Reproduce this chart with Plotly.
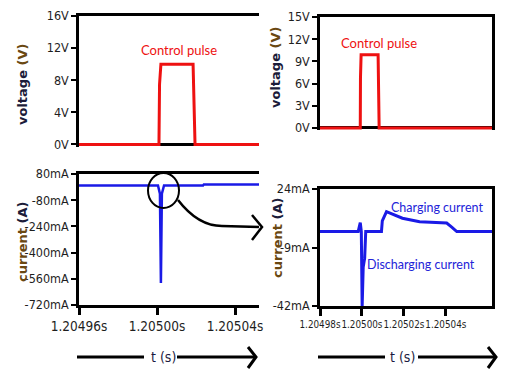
import plotly.graph_objects as go

W, H = 506, 373

# ---------------- data ----------------
# top-left: control pulse (V)
t_v_left = [1.20496, 1.2050010, 1.2050013, 1.2050020, 1.2050185, 1.2050188, 1.2050195, 1.2050523]
v_left = [0, 0, 7.5, 10, 10, 7.0, 0, 0]

# top-right: control pulse (V), zoomed time window
t_v_right = [1.20498, 1.2049992, 1.2049993, 1.2049996, 1.2050077, 1.2050080, 1.2050082, 1.205062]
v_right = [0, 0, 6.8, 9.9, 9.9, 4.5, 0, 0]

# bottom-left: current (mA)
t_i_left = [1.20496, 1.2050005, 1.2050015, 1.2050020, 1.2050025, 1.2050036, 1.2050236, 1.2050240, 1.2050523]
i_left = [10, 10, -40, -585, -40, 10, 10, 16, 16]

# bottom-right: current (mA), zoomed time window
t_i_right = [1.20498, 1.2049982, 1.2049992, 1.2049997, 1.2050001, 1.2050006, 1.2050013, 1.2050018,
             1.2050093, 1.2050097, 1.2050117, 1.2050155, 1.2050193, 1.2050275, 1.2050347,
             1.2050404, 1.2050428, 1.2050452, 1.205062]
i_right = [0, 0, 5, 0, -42, -20, -15, 0,
           0, 6, 11.2, 9.5, 7.5, 5.5, 5.0,
           4.8, 2.5, 0, 0]

v_left_ticks = [0, 4, 8, 12, 16]
v_left_labels = ["0V", "4V", "8V", "12V", "16V"]
v_right_ticks = [0, 3, 6, 9, 12, 15]
v_right_labels = ["0V", "3V", "6V", "9V", "12V", "15V"]
i_left_ticks = [80, -80, -240, -400, -560, -720]
i_left_labels = ["80mA", "-80mA", "-240mA", "-400mA", "-560mA", "-720mA"]
i_right_ticks = [24, -9, -42]
i_right_labels = ["24mA", "-9mA", "-42mA"]
t_left_ticks = [1.20496, 1.20500, 1.20504]
t_left_labels = ["1.20496s", "1.20500s", "1.20504s"]
t_right_ticks = [1.20498, 1.20500, 1.20502, 1.20504]
t_right_labels = ["1.20498s", "1.20500s", "1.20502s", "1.20504s"]

# ---------------- helpers ----------------
def px(x):
    return x / W

def py(y):
    return 1 - y / H

RED = "#ee1111"
BLUE = "#1a1ae6"
TICKC = "#1e1e1e"
NARROW = "DejaVu Sans Condensed, Liberation Sans Narrow, sans-serif"

fig = go.Figure()
fig.add_trace(go.Scatter(x=t_v_left, y=v_left, mode="lines", line=dict(color=RED, width=3),
                         xaxis="x", yaxis="y"))
fig.add_trace(go.Scatter(x=t_v_right, y=v_right, mode="lines", line=dict(color=RED, width=3),
                         xaxis="x2", yaxis="y2"))
fig.add_trace(go.Scatter(x=t_i_left, y=i_left, mode="lines", line=dict(color=BLUE, width=2.5),
                         xaxis="x3", yaxis="y3"))
fig.add_trace(go.Scatter(x=t_i_right, y=i_right, mode="lines", line=dict(color=BLUE, width=3),
                         xaxis="x4", yaxis="y4"))

LW = 2.5
common_x = dict(showgrid=False, zeroline=False, linecolor="black", linewidth=LW, showline=True,
                tickcolor="black", tickangle=0, automargin=False)
common_y = dict(showgrid=False, linecolor="black", linewidth=LW, showline=True, automargin=False,
                ticks="outside", ticklen=5, tickwidth=2, tickcolor="black")

YF = dict(family=NARROW, size=12.5, color=TICKC)

fig.update_layout(
    width=W, height=H, margin=dict(l=0, r=0, t=0, b=0, autoexpand=False),
    paper_bgcolor="white", plot_bgcolor="white", showlegend=False,
    xaxis=dict(common_x, domain=[px(79), px(259)], anchor="y", range=[1.20496, 1.2050523],
               side="top", showticklabels=False, ticks=""),
    yaxis=dict(common_y, domain=[py(146.5), py(16)], anchor="x", range=[-0.25, 16],
               tickvals=v_left_ticks, ticktext=v_left_labels, tickfont=YF,
               zeroline=True, zerolinecolor="black", zerolinewidth=LW),
    xaxis2=dict(common_x, domain=[px(320), px(492)], anchor="y2", range=[1.20498, 1.205062],
                side="top", showticklabels=False, ticks=""),
    yaxis2=dict(common_y, domain=[py(130), py(17)], anchor="x2", range=[-0.28, 15], mirror=True,
                tickvals=v_right_ticks, ticktext=v_right_labels, tickfont=YF,
                zeroline=True, zerolinecolor="black", zerolinewidth=LW),
    xaxis3=dict(common_x, domain=[px(79), px(259)], anchor="y3", range=[1.20496, 1.2050523],
                mirror=True, ticks="outside", ticklen=7, tickwidth=2.5,
                tickvals=t_left_ticks, ticktext=t_left_labels,
                tickfont=dict(family=NARROW, size=13.5, color=TICKC)),
    yaxis3=dict(common_y, domain=[py(305), py(174)], anchor="x3", range=[-720, 80], zeroline=False,
                tickvals=i_left_ticks, ticktext=i_left_labels, tickfont=YF),
    xaxis4=dict(common_x, domain=[px(320), px(492)], anchor="y4", range=[1.20498, 1.205062],
                mirror=True, ticks="outside", ticklen=7, tickwidth=2.5,
                tickvals=t_right_ticks, ticktext=t_right_labels,
                tickfont=dict(family=NARROW, size=9.8, color=TICKC)),
    yaxis4=dict(common_y, domain=[py(306), py(189)], anchor="x4", range=[-42, 24], mirror=True,
                zeroline=False, tickvals=i_right_ticks, ticktext=i_right_labels, tickfont=YF),
)

DARK = "#1c1c3a"
BROWN = "#6a4812"
TFONT = dict(family="DejaVu Sans, Verdana, sans-serif", size=13)


def ann(x, y, text, font, angle=0):
    fig.add_annotation(x=px(x), y=py(y), xref="paper", yref="paper", text=text, showarrow=False,
                       font=font, textangle=angle, xanchor="center", yanchor="middle")


# axis titles
vtitle = f"<b><span style='color:{DARK}'>voltage</span> <span style='color:{BROWN}'>(V)</span></b>"
ctitle = f"<b><span style='color:{BROWN}'>current</span> <span style='color:{DARK}'>(A)</span></b>"
ann(22, 85, vtitle, TFONT, -90)
ann(275, 68, vtitle, TFONT, -90)
ann(22, 242, ctitle, TFONT, -90)
ann(277, 238, ctitle, TFONT, -90)

# in-plot labels
LFONT = "Lato, Open Sans, sans-serif"
ann(179, 50, "Control pulse", dict(family=LFONT, size=13, color=RED))
ann(379, 43, "Control pulse", dict(family=LFONT, size=13, color=RED))
ann(437, 207, "Charging current", dict(family=LFONT, size=12.5, color="#2323d8"))
ann(421, 264, "Discharging current", dict(family=LFONT, size=12.5, color="#2323d8"))

# time-axis captions
TS = dict(family=NARROW, size=14, color="#1a1a40")
ann(163, 357, "t (s)", TS)
ann(402, 357, "t (s)", TS)

# decorative shapes: circle + curved arrow, and time arrows
BLK = dict(color="black", width=2)
fig.add_shape(type="circle", xref="paper", yref="paper",
              x0=px(148), x1=px(179), y0=py(208), y1=py(173), line=BLK)


def P(x, y):
    return f"{px(x):.5f},{py(y):.5f}"


fig.add_shape(type="path", xref="paper", yref="paper", line=dict(color="black", width=2.5),
              path=f"M {P(178,200)} Q {P(198,226)} {P(222,226)} L {P(259,227)}")
fig.add_shape(type="path", xref="paper", yref="paper", line=dict(color="black", width=2.5),
              path=f"M {P(252,215)} L {P(262,227)} L {P(252,240)}")

AR = dict(color="black", width=3)
for (a, b) in [((77, 357), (144, 357)), ((177, 357), (255, 357)),
               ((318, 357), (385, 357)), ((418, 357), (495, 357))]:
    fig.add_shape(type="line", xref="paper", yref="paper",
                  x0=px(a[0]), y0=py(a[1]), x1=px(b[0]), y1=py(b[1]), line=AR)
for tip in [256, 496]:
    fig.add_shape(type="path", xref="paper", yref="paper", line=AR,
                  path=f"M {P(tip-8,347)} L {P(tip,357)} L {P(tip-8,368)}")

fig.write_html("out.html")
